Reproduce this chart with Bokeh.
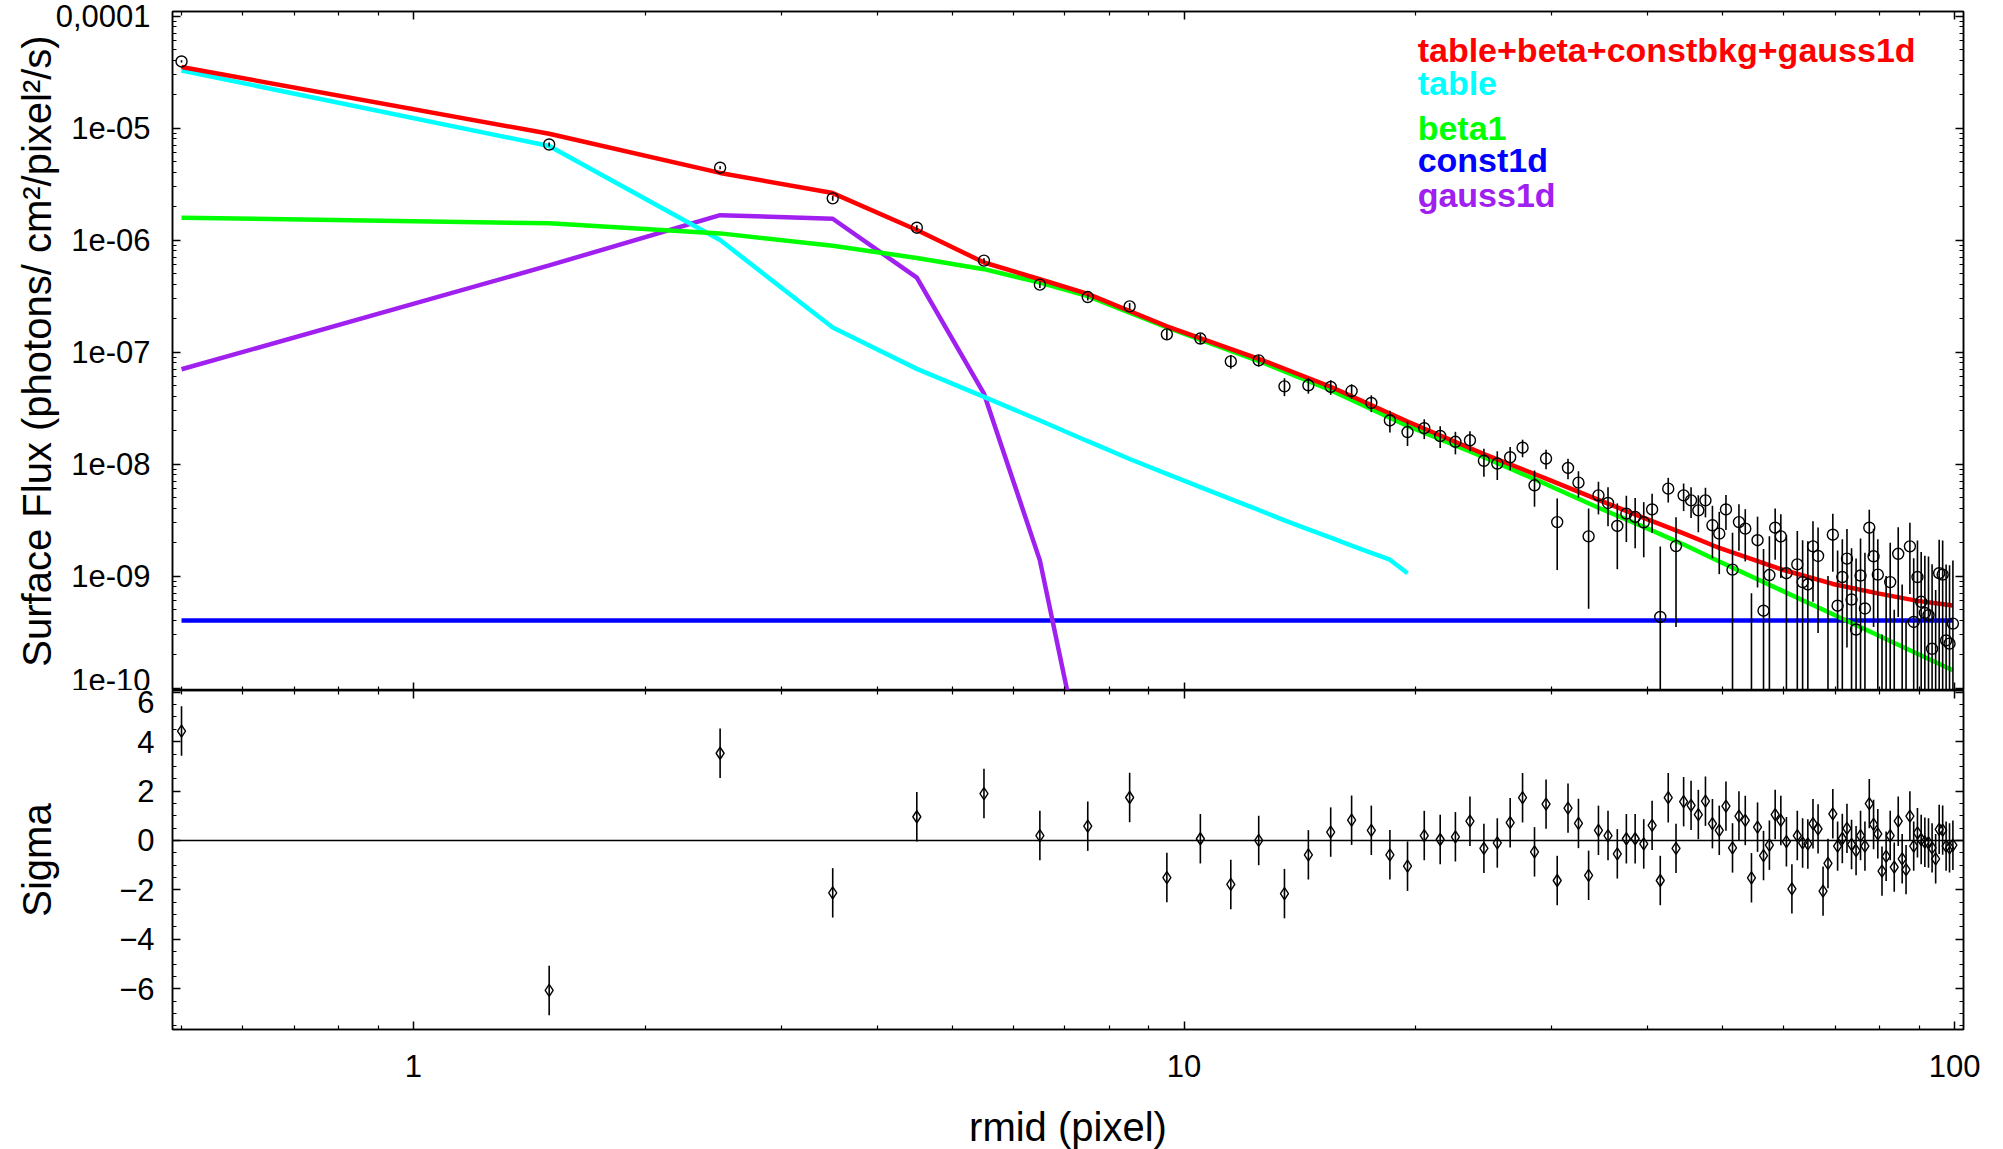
from bokeh.plotting import figure
from bokeh.models import (LogAxis, LinearAxis, FixedTicker, CustomJSTickFormatter,
                          Range1d, Span, Label)
from bokeh.layouts import column
from bokeh.embed import file_html
from bokeh.resources import INLINE

# ---------------- data ----------------
rmid = [0.5, 1.5, 2.5, 3.5, 4.5, 5.5, 6.5, 7.5, 8.5, 9.5,
        10.5, 11.5, 12.5, 13.5, 14.5, 15.5, 16.5, 17.5, 18.5, 19.5,
        20.5, 21.5, 22.5, 23.5, 24.5, 25.5, 26.5, 27.5, 28.5, 29.5,
        30.5, 31.5, 32.5, 33.5, 34.5, 35.5, 36.5, 37.5, 38.5, 39.5,
        40.5, 41.5, 42.5, 43.5, 44.5, 45.5, 46.5, 47.5, 48.5, 49.5,
        50.5, 51.5, 52.5, 53.5, 54.5, 55.5, 56.5, 57.5, 58.5, 59.5,
        60.5, 61.5, 62.5, 63.5, 64.5, 65.5, 66.5, 67.5, 68.5, 69.5,
        70.5, 71.5, 72.5, 73.5, 74.5, 75.5, 76.5, 77.5, 78.5, 79.5,
        80.5, 81.5, 82.5, 83.5, 84.5, 85.5, 86.5, 87.5, 88.5, 89.5,
        90.5, 91.5, 92.5, 93.5, 94.5, 95.5, 96.5, 97.5, 98.5, 99.5]

sur_bri = [3.94e-5, 7.14e-6, 4.43e-6, 2.36e-6, 1.29e-6, 6.55e-7, 4.0e-7, 3.10e-7, 2.56e-7, 1.44e-7,
           1.32e-7, 8.26e-8, 8.43e-8, 4.94e-8, 5.05e-8, 4.88e-8, 4.49e-8, 3.51e-8, 2.45e-8, 1.93e-8,
           2.09e-8, 1.78e-8, 1.58e-8, 1.63e-8, 1.07e-8, 1.01e-8, 1.15e-8, 1.40e-8, 6.46e-9, 1.12e-8,
           3.03e-9, 9.23e-9, 6.82e-9, 2.26e-9, 5.25e-9, 4.49e-9, 2.80e-9, 3.61e-9, 3.37e-9, 3.02e-9,
           3.93e-9, 4.31e-10, 6.03e-9, 1.85e-9, 5.25e-9, 4.74e-9, 3.86e-9, 4.74e-9, 2.84e-9, 2.39e-9,
           3.93e-9, 1.14e-9, 3.03e-9, 2.65e-9, -6.0e-10, 2.09e-9, 4.90e-10, 1.02e-9, 2.70e-9, 2.26e-9,
           1.06e-9, -1.38e-9, 1.27e-9, 8.83e-10, 8.41e-10, 1.84e-9, 1.51e-9, -1.46e-9, -2.0e-10, 2.34e-9,
           5.43e-10, 9.79e-10, 1.43e-9, 6.17e-10, 3.33e-10, 1.01e-9, 5.13e-10, 2.70e-9, 1.50e-9, 1.03e-9,
           -8.0e-10, -1.0e-10, 8.83e-10, -6.0e-10, 1.58e-9, -2.6e-10, -7.0e-10, 1.84e-9, 3.89e-10, 9.79e-10,
           5.89e-10, 4.68e-10, 4.47e-10, 2.24e-10, -3.0e-10, 1.06e-9, 1.03e-9, 2.66e-10, 2.49e-10, 3.76e-10]

sur_bri_err = [9.5e-7, 3.0e-7, 1.3e-7, 1.2e-7, 6.5e-8, 3.5e-8, 2.6e-8, 2.1e-8, 1.8e-8, 1.5e-8,
               1.3e-8, 1.15e-8, 1.0e-8, 9.0e-9, 8.0e-9, 7.3e-9, 6.7e-9, 6.0e-9, 5.4e-9, 4.8e-9,
               4.2e-9, 3.9e-9, 3.6e-9, 3.3e-9, 3.0e-9, 2.9e-9, 2.7e-9, 2.5e-9, 2.3e-9, 2.2e-9,
               1.9e-9, 1.9e-9, 1.8e-9, 1.75e-9, 1.7e-9, 1.7e-9, 1.65e-9, 1.6e-9, 1.6e-9, 1.55e-9,
               1.5e-9, 1.4e-9, 1.5e-9, 1.5e-9, 1.45e-9, 1.45e-9, 1.4e-9, 1.4e-9, 1.4e-9, 1.35e-9,
               1.35e-9, 1.3e-9, 1.35e-9, 1.3e-9, 1.3e-9, 1.3e-9, 1.25e-9, 1.25e-9, 1.3e-9, 1.3e-9,
               1.25e-9, 1.25e-9, 1.25e-9, 1.2e-9, 1.2e-9, 1.25e-9, 1.2e-9, 1.2e-9, 1.2e-9, 1.25e-9,
               1.15e-9, 1.15e-9, 1.2e-9, 1.15e-9, 1.1e-9, 1.15e-9, 1.1e-9, 1.2e-9, 1.15e-9, 1.1e-9,
               1.1e-9, 1.1e-9, 1.1e-9, 1.1e-9, 1.15e-9, 1.1e-9, 1.1e-9, 1.15e-9, 1.05e-9, 1.1e-9,
               1.05e-9, 1.05e-9, 1.05e-9, 1.05e-9, 1.05e-9, 1.05e-9, 1.05e-9, 1.0e-9, 1.0e-9, 1.0e-9]

sigma = [4.43, -6.07, 3.53, -2.12, 0.96, 1.9, 0.2, 0.58, 1.74, -1.5,
         0.07, -1.78, 0.0, -2.15, -0.58, 0.34, 0.82, 0.41, -0.58, -1.04,
         0.2, 0.04, 0.15, 0.78, -0.32, -0.1, 0.72, 1.73, -0.46, 1.47,
         -1.62, 1.31, 0.69, -1.41, 0.41, 0.2, -0.54, 0.07, 0.07, -0.14,
         0.61, -1.62, 1.73, -0.32, 1.57, 1.42, 1.05, 1.59, 0.68, 0.41,
         1.39, -0.3, 0.99, 0.81, -1.51, 0.54, -0.61, -0.19, 1.05, 0.81,
         -0.05, -1.96, 0.2, -0.1, -0.14, 0.68, 0.47, -2.05, -0.93, 1.08,
         -0.23, 0.08, 0.49, -0.16, -0.41, 0.2, -0.23, 1.49, 0.65, 0.27,
         -1.24, -0.64, 0.2, -1.08, 0.78, -0.74, -1.18, 0.99, -0.23, 0.31,
         0.04, -0.07, -0.1, -0.3, -0.74, 0.45, 0.42, -0.23, -0.3, -0.19]

model_r = [0.5, 1.5, 2.5, 3.5, 4.5, 5.5, 6.5, 7.5, 9.5, 12.5, 15.5, 19.5,
           24.5, 29.5, 34.5, 39.5, 44.5, 49.5, 59.5, 69.5, 79.5, 89.5, 99.5]
model_total = [3.51e-5, 8.9e-6, 3.98e-6, 2.63e-6, 1.23e-6, 6.31e-7, 4.47e-7, 3.31e-7,
               1.70e-7, 8.71e-8, 4.90e-8, 2.40e-8, 1.23e-8, 7.41e-9, 4.79e-9, 3.31e-9,
               2.40e-9, 1.78e-9, 1.15e-9, 8.5e-10, 7.0e-10, 6.0e-10, 5.45e-10]
beta1 = [1.585e-6, 1.413e-6, 1.148e-6, 8.91e-7, 6.92e-7, 5.50e-7, 4.17e-7, 3.16e-7,
         1.66e-7, 8.32e-8, 4.57e-8, 2.19e-8, 1.15e-8, 6.61e-9, 4.07e-9, 2.75e-9,
         1.91e-9, 1.35e-9, 7.48e-10, 4.55e-10, 2.96e-10, 2.02e-10, 1.44e-10]

table_r = [0.5, 1.5, 2.5, 3.5, 4.5, 5.5, 6.5, 7.5, 8.5, 9.5,
           10.5, 11.5, 12.5, 13.5, 14.5, 15.5, 16.5, 17.5, 18.5, 19.5]
table_flux = [3.27e-5, 6.92e-6, 1.00e-6, 1.66e-7, 7.08e-8, 3.98e-8, 2.45e-8, 1.60e-8, 1.11e-8, 8.17e-9,
              6.22e-9, 4.86e-9, 3.89e-9, 3.14e-9, 2.61e-9, 2.20e-9, 1.87e-9, 1.61e-9, 1.40e-9, 1.06e-9]

gauss_r = [0.5, 1.5, 2.5, 3.5, 4.5, 5.5, 6.5, 7.5]
gauss_flux = [7.02e-8, 5.94e-7, 1.67e-6, 1.55e-6, 4.62e-7, 4.25e-8, 1.38e-9, 1.26e-11]

const1d = 4.0e-10

legend_labels = ["table+beta+constbkg+gauss1d", "table", "beta1", "const1d", "gauss1d"]
legend_colors = ["#FF0000", "#00FFFF", "#00FF00", "#0000FF", "#A020F0"]
legend_y = [4.94e-5, 2.51e-5, 1.01e-5, 5.15e-6, 2.51e-6]
legend_x = 20.1

x_major = [1, 10, 100]
x_minor = [0.5, 0.6, 0.7, 0.8, 0.9, 2, 3, 4, 5, 6, 7, 8, 9,
           20, 30, 40, 50, 60, 70, 80, 90]
y_major = [1e-10, 1e-9, 1e-8, 1e-7, 1e-6, 1e-5, 1e-4]
y_minor = [k * d for d in [1e-10, 1e-9, 1e-8, 1e-7, 1e-6, 1e-5] for k in range(2, 10)]
s_major = [-6, -4, -2, 0, 2, 4, 6]
s_minor = [v / 2.0 for v in range(-15, 13)]

# ---------------- style ----------------
FONT = "Liberation Sans"
X_RANGE = (0.4867, 102.7)
Y_RANGE = (0.95e-10, 1.1e-4)
S_RANGE = (-7.65, 6.07)
FRAME_W = 1791
LEFT = 172
TOP = 11
LW = 4.5


def style_axis(ax, show_labels):
    ax.major_tick_in = 8
    ax.major_tick_out = 0
    ax.minor_tick_in = 4
    ax.minor_tick_out = 0
    ax.axis_line_color = "black"
    ax.axis_line_width = 1.5
    ax.major_tick_line_color = "black"
    ax.minor_tick_line_color = "black"
    ax.major_tick_line_width = 1.5
    ax.minor_tick_line_width = 1.2
    ax.major_label_text_font = FONT
    ax.major_label_text_color = "black"
    ax.axis_label_text_font = FONT
    ax.axis_label_text_font_style = "normal"
    ax.axis_label_text_color = "black"
    if show_labels:
        ax.major_label_text_font_size = "31px"
        ax.axis_label_text_font_size = "40px"
    else:
        ax.major_label_text_font_size = "0px"
        ax.major_label_standoff = 0
    return ax


def x_axis(show_labels):
    ax = LogAxis(ticker=FixedTicker(ticks=x_major, minor_ticks=x_minor))
    if show_labels:
        ax.formatter = CustomJSTickFormatter(code="return String(tick);")
    else:
        ax.formatter = CustomJSTickFormatter(code="return '';")
    return style_axis(ax, show_labels)


# ---------------- top panel ----------------
p1 = figure(x_axis_type="log", y_axis_type="log",
            x_axis_location=None, y_axis_location=None,
            x_range=Range1d(*X_RANGE), y_range=Range1d(*Y_RANGE),
            frame_width=FRAME_W, frame_height=679,
            min_border_left=LEFT, min_border_right=25,
            min_border_top=TOP, min_border_bottom=0,
            output_backend="svg", toolbar_location=None,
            background_fill_color="white", border_fill_color="white")
p1.grid.grid_line_color = None
p1.outline_line_color = "black"
p1.outline_line_width = 1.5

yl = LogAxis(ticker=FixedTicker(ticks=y_major, minor_ticks=y_minor),
             formatter=CustomJSTickFormatter(code="""
const e = Math.round(Math.log10(tick));
if (e === -4) { return '0,0001'; }
const n = -e;
return '1e-' + (n < 10 ? '0' + n : '' + n);
"""),
             axis_label="Surface Flux (photons/ cm²/pixel²/s)")
style_axis(yl, True)
yl.major_label_standoff = 22
yl.axis_label_standoff = -6
p1.add_layout(yl, "left")

yr = LogAxis(ticker=FixedTicker(ticks=y_major, minor_ticks=y_minor),
             formatter=CustomJSTickFormatter(code="return '';"))
style_axis(yr, False)
p1.add_layout(yr, "right")
p1.add_layout(x_axis(False), "above")
p1.add_layout(x_axis(False), "below")

# model curves
p1.line(rmid, [const1d] * len(rmid), line_color=legend_colors[3], line_width=LW)
p1.line(gauss_r, gauss_flux, line_color=legend_colors[4], line_width=LW)
p1.line(table_r, table_flux, line_color=legend_colors[1], line_width=LW)
p1.line(model_r, beta1, line_color=legend_colors[2], line_width=LW)
p1.line(model_r, model_total, line_color=legend_colors[0], line_width=LW)

# data with error bars
bx, blo, bhi = [], [], []
for r, d, e in zip(rmid, sur_bri, sur_bri_err):
    hi = d + e
    if hi <= 0:
        continue
    lo = d - e if d - e > 0 else Y_RANGE[0] * 0.01
    bx.append(r)
    blo.append(lo)
    bhi.append(hi)
p1.segment(x0=bx, y0=blo, x1=bx, y1=bhi, line_color="black", line_width=1.6)
mx = [r for r, d in zip(rmid, sur_bri) if d > 0]
my = [d for d in sur_bri if d > 0]
p1.scatter(mx, my, marker="circle", size=11, fill_color=None,
           line_color="black", line_width=1.4)

for txt, col, yy in zip(legend_labels, legend_colors, legend_y):
    p1.add_layout(Label(x=legend_x, y=yy, text=txt, text_color=col,
                        text_font=FONT, text_font_style="bold",
                        text_font_size="34px", text_baseline="middle",
                        text_align="left"))

# ---------------- residual panel ----------------
p2 = figure(x_axis_type="log", x_axis_location=None, y_axis_location=None,
            x_range=p1.x_range, y_range=Range1d(*S_RANGE),
            frame_width=FRAME_W, frame_height=339,
            min_border_left=LEFT, min_border_right=25,
            min_border_top=0, min_border_bottom=0,
            output_backend="svg", toolbar_location=None,
            background_fill_color="white", border_fill_color="white")
p2.grid.grid_line_color = None
p2.outline_line_color = "black"
p2.outline_line_width = 1.5

sl = LinearAxis(ticker=FixedTicker(ticks=s_major, minor_ticks=s_minor), axis_label="Sigma")
style_axis(sl, True)
sl.major_label_standoff = 18
sl.axis_label_standoff = 57
p2.add_layout(sl, "left")
sr = LinearAxis(ticker=FixedTicker(ticks=s_major, minor_ticks=s_minor),
                formatter=CustomJSTickFormatter(code="return '';"))
style_axis(sr, False)
p2.add_layout(sr, "right")
p2.add_layout(x_axis(False), "above")
xb = x_axis(True)
xb.axis_label = "rmid (pixel)"
xb.major_label_standoff = 25
xb.axis_label_standoff = 25
p2.add_layout(xb, "below")

p2.add_layout(Span(location=0, dimension="width", line_color="black", line_width=1.5))
p2.segment(x0=rmid, y0=[s - 1 for s in sigma], x1=rmid, y1=[s + 1 for s in sigma],
           line_color="black", line_width=1.6)
p2.scatter(rmid, sigma, marker="diamond", size=12, fill_color=None,
           line_color="black", line_width=1.4)

layout = column(p1, p2, spacing=0)
open("out.html", "w").write(file_html(layout, INLINE))
